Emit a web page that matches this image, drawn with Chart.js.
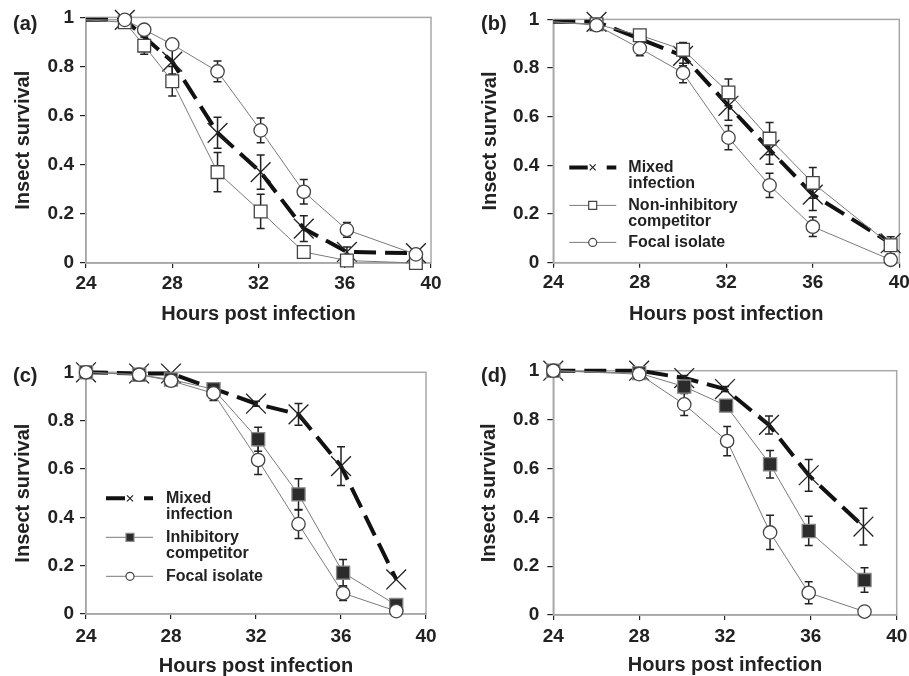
<!DOCTYPE html>
<html>
<head>
<meta charset="utf-8">
<script src="https://cdn.jsdelivr.net/npm/chart.js@4.4.1/dist/chart.umd.min.js"></script>
<style>
  html, body { margin: 0; padding: 0; background: #fff; overflow: hidden; }
  .wrap { position: relative; width: 909px; height: 676px; overflow: hidden; }
  canvas { position: absolute; }
  .tag { position: absolute; font: bold 20px "Liberation Sans", Arial, sans-serif; color: #222; line-height: 20px; }
</style>
</head>
<body>
<div class="wrap">
  <canvas id="ca" width="450" height="330" style="left:0;top:0"></canvas>
  <canvas id="cb" width="470" height="330" style="left:450px;top:0"></canvas>
  <canvas id="cc" width="450" height="350" style="left:0;top:330px"></canvas>
  <canvas id="cd" width="470" height="350" style="left:450px;top:330px"></canvas>
  <div class="tag" style="left:13px;top:13px">(a)</div>
  <div class="tag" style="left:481px;top:13px">(b)</div>
  <div class="tag" style="left:13px;top:365px">(c)</div>
  <div class="tag" style="left:481px;top:365px">(d)</div>
</div>
<script>
// hours post infection, survival, +/- error for every series
var aMixedT = [24, 25.8, 28, 30.1, 32.1, 34.1, 36.1, 39.3];
var aMixedY = [0.99, 0.99, 0.82, 0.53, 0.37, 0.14, 0.045, 0.04];
var aMixedE = [0, 0, 0.05, 0.063, 0.07, 0.052, 0.02, 0];
var aNonT = [24, 25.8, 26.7, 28, 30.1, 32.1, 34.1, 36.1, 39.3];
var aNonY = [0.99, 0.98, 0.885, 0.74, 0.37, 0.21, 0.045, 0.01, 0];
var aNonE = [0, 0, 0.035, 0.06, 0.08, 0.07, 0.02, 0, 0];
var aFocalT = [24, 25.8, 26.7, 28, 30.1, 32.1, 34.1, 36.1, 39.3];
var aFocalY = [0.99, 0.99, 0.95, 0.89, 0.78, 0.54, 0.29, 0.135, 0.035];
var aFocalE = [0, 0, 0.01, 0.01, 0.042, 0.05, 0.05, 0.03, 0];

var bMixedT = [24, 26, 30, 32.1, 34, 36, 39.6];
var bMixedY = [0.99, 0.99, 0.85, 0.645, 0.465, 0.28, 0.08];
var bMixedE = [0, 0, 0.04, 0.06, 0.06, 0.065, 0];
var bNonT = [24, 26, 28, 30, 32.1, 34, 36, 39.6];
var bNonY = [0.99, 0.98, 0.935, 0.875, 0.7, 0.51, 0.328, 0.072];
var bNonE = [0, 0.01, 0.01, 0.03, 0.055, 0.066, 0.063, 0.035];
var bFocalT = [24, 26, 28, 30, 32.1, 34, 36, 39.6];
var bFocalY = [0.99, 0.976, 0.881, 0.78, 0.514, 0.318, 0.148, 0.012];
var bFocalE = [0, 0.01, 0.03, 0.04, 0.05, 0.05, 0.04, 0];

var cMixedT = [24, 26.5, 28, 32, 34, 36, 38.6];
var cMixedY = [1, 0.995, 0.995, 0.87, 0.826, 0.612, 0.143];
var cMixedE = [0, 0, 0, 0.01, 0.045, 0.08, 0];
var cInhT = [24, 26.5, 28, 30, 32.1, 34, 36.1, 38.6];
var cInhY = [1, 0.99, 0.97, 0.93, 0.723, 0.495, 0.171, 0.037];
var cInhE = [0, 0, 0, 0.02, 0.05, 0.065, 0.055, 0.01];
var cFocalT = [24, 26.5, 28, 30, 32.1, 34, 36.1, 38.6];
var cFocalY = [1, 0.99, 0.965, 0.913, 0.637, 0.372, 0.086, 0.012];
var cFocalE = [0, 0, 0.01, 0.03, 0.06, 0.06, 0.03, 0];

var dMixedT = [24, 28, 30.1, 32, 34.05, 35.9, 38.45];
var dMixedY = [1, 1, 0.97, 0.925, 0.778, 0.572, 0.362];
var dMixedE = [0, 0, 0.01, 0.01, 0.037, 0.065, 0.075];
var dInhT = [24, 28, 30.1, 32.05, 34.1, 35.9, 38.5];
var dInhY = [1, 0.99, 0.935, 0.857, 0.617, 0.344, 0.143];
var dInhE = [0, 0, 0.01, 0.01, 0.056, 0.06, 0.05];
var dFocalT = [24, 28, 30.1, 32.1, 34.1, 35.9, 38.5];
var dFocalY = [1, 0.986, 0.862, 0.712, 0.338, 0.091, 0.014];
var dFocalE = [0, 0, 0.045, 0.06, 0.07, 0.045, 0];

var xTicks = [24, 28, 32, 36, 40];
var yTicks = [0, 0.2, 0.4, 0.6, 0.8, 1];
var yTickLabels = ["0", "0.2", "0.4", "0.6", "0.8", "1"];
var xTitle = "Hours post infection";
var yTitle = "Insect survival";
var mixedLegend = ["Mixed", "infection"];
var nonLegend = ["Non-inhibitory", "competitor"];
var inhLegend = ["Inhibitory", "competitor"];
var focalLegend = ["Focal isolate"];

Chart.defaults.font.family = '"Liberation Sans", Arial, Helvetica, sans-serif';
Chart.defaults.color = "#222";

var styles = {
  mixed: { line: "#111", lw: 4, dash: [22, 9], ps: "crossRot", r: 14, bg: "rgba(0,0,0,0)", bc: "#222", bw: 1.3 },
  open: { line: "#7a7a7a", lw: 1, dash: [], ps: "rect", r: 9, bg: "#fff", bc: "#444", bw: 1.3 },
  filled: { line: "#7a7a7a", lw: 1, dash: [], ps: "rect", r: 9.3, bg: "#2b2b2b", bc: "#888", bw: 1.3 },
  circle: { line: "#7a7a7a", lw: 1, dash: [], ps: "circle", r: 6.7, bg: "#fff", bc: "#444", bw: 1.3 }
};

function series(kind, t, y, e, legend) {
  return { kind: kind, t: t, y: y, e: e, legend: legend };
}

function toDataset(s, hideFirst) {
  var st = styles[s.kind];
  return {
    label: s.legend.join(" "),
    data: s.t.map(function (t, i) { return { x: t, y: s.y[i] }; }),
    errors: s.e,
    showLine: true,
    tension: 0,
    clip: false,
    borderColor: st.line,
    borderWidth: st.lw,
    borderDash: st.dash,
    pointStyle: st.ps,
    pointRadius: function (c) { return hideFirst && c.dataIndex === 0 ? 0 : st.r; },
    pointBackgroundColor: st.bg,
    pointBorderColor: st.bc,
    pointBorderWidth: st.bw
  };
}

var boxPlugin = {
  id: "box",
  beforeDatasetsDraw: function (chart) {
    var a = chart.chartArea, ctx = chart.ctx;
    ctx.save();
    ctx.strokeStyle = "#a8a8a8";
    ctx.lineWidth = 1.5;
    ctx.strokeRect(a.left, a.top, a.right - a.left, a.bottom - a.top);
    // error bars go under the markers
    var xs = chart.scales.x, ys = chart.scales.y;
    ctx.strokeStyle = "#222";
    ctx.lineWidth = 1.5;
    chart.data.datasets.forEach(function (ds) {
      ds.data.forEach(function (p, i) {
        var e = ds.errors[i];
        if (!e) return;
        var px = xs.getPixelForValue(p.x);
        var y0 = ys.getPixelForValue(p.y + e), y1 = ys.getPixelForValue(p.y - e);
        ctx.beginPath();
        ctx.moveTo(px, y0); ctx.lineTo(px, y1);
        ctx.moveTo(px - 4, y0); ctx.lineTo(px + 4, y0);
        ctx.moveTo(px - 4, y1); ctx.lineTo(px + 4, y1);
        ctx.stroke();
      });
    });
    ctx.restore();
  }
};

function drawMarker(ctx, kind, x, y) {
  var st = styles[kind];
  ctx.lineWidth = 1.2;
  ctx.strokeStyle = st.bc;
  ctx.fillStyle = st.bg;
  ctx.beginPath();
  if (kind === "circle") {
    ctx.arc(x, y, 4, 0, Math.PI * 2);
    ctx.fill(); ctx.stroke();
  } else if (kind === "mixed") {
    ctx.moveTo(x - 3, y - 3); ctx.lineTo(x + 3, y + 3);
    ctx.moveTo(x + 3, y - 3); ctx.lineTo(x - 3, y + 3);
    ctx.stroke();
  } else {
    ctx.rect(x - 4, y - 4, 8, 8);
    ctx.fill(); ctx.stroke();
  }
}

var legendPlugin = {
  id: "sketchLegend",
  afterDatasetsDraw: function (chart, args, opts) {
    if (!opts.rows) return;
    var a = chart.chartArea, ctx = chart.ctx;
    var x0 = a.left + opts.x0, x1 = a.left + opts.x1, xm = a.left + opts.xm, tx = a.left + opts.tx;
    ctx.save();
    opts.rows.forEach(function (row) {
      var s = row.s, st = styles[s.kind], y = a.top + row.y;
      ctx.strokeStyle = st.line;
      ctx.lineWidth = st.lw;
      ctx.beginPath();
      if (s.kind === "mixed") {
        ctx.moveTo(x0, y); ctx.lineTo(xm - 5, y);
        ctx.moveTo(xm + 14, y); ctx.lineTo(x1, y);
      } else {
        ctx.moveTo(x0, y); ctx.lineTo(x1, y);
      }
      ctx.stroke();
      drawMarker(ctx, s.kind, xm, y);
      ctx.fillStyle = "#222";
      ctx.font = "bold 16px " + Chart.defaults.font.family;
      ctx.textAlign = "left";
      ctx.textBaseline = "middle";
      s.legend.forEach(function (line, k) { ctx.fillText(line, tx, y + k * 16); });
    });
    ctx.restore();
  }
};

function makePanel(id, p, list, legend) {
  var ctx = document.getElementById(id).getContext("2d");
  return new Chart(ctx, {
    type: "scatter",
    data: { datasets: list.map(function (s) { return toDataset(s, p.hideFirst); }) },
    options: {
      responsive: false,
      animation: false,
      events: [],
      layout: { padding: { left: 0, top: p.top, right: p.right, bottom: 0 } },
      plugins: { legend: { display: false }, tooltip: { enabled: false }, sketchLegend: legend || {} },
      scales: {
        x: {
          type: "linear", min: 24, max: 40,
          afterBuildTicks: function (s) { s.ticks = xTicks.map(function (v) { return { value: v }; }); },
          afterFit: function (s) { s.height = p.xh; },
          ticks: { padding: p.xPad, color: "#222", font: { size: 19, weight: "bold" }, maxRotation: 0 },
          grid: { drawOnChartArea: false, tickLength: 5, tickColor: "#222", lineWidth: 1.2 },
          border: { color: "#a0a0a0", width: 1.5 },
          title: { display: true, text: xTitle, color: "#222", font: { size: 20, weight: "bold" }, padding: { top: 0, bottom: p.xtPad } }
        },
        y: {
          min: 0, max: 1,
          afterBuildTicks: function (s) { s.ticks = yTicks.map(function (v) { return { value: v }; }); },
          afterFit: function (s) { s.width = p.yw; },
          ticks: {
            padding: p.yPad, color: "#222", font: { size: 19, weight: "bold" },
            callback: function (v) { return yTickLabels[yTicks.indexOf(Math.round(v * 10) / 10)]; }
          },
          grid: { drawOnChartArea: false, tickLength: 6, tickColor: "#222", lineWidth: 1.2 },
          border: { color: "#a0a0a0", width: 1.5 },
          title: { display: true, text: yTitle, color: "#222", font: { size: 20, weight: "bold" }, padding: { top: p.ytPad, bottom: 0 } }
        }
      }
    },
    plugins: [boxPlugin, legendPlugin]
  });
}

// (a)
var aFocal = series("circle", aFocalT, aFocalY, aFocalE, focalLegend);
var aNon = series("open", aNonT, aNonY, aNonE, nonLegend);
var aMixed = series("mixed", aMixedT, aMixedY, aMixedE, mixedLegend);
makePanel("ca", { top: 17, right: 19, xh: 67, yw: 86, xPad: 4, yPad: 6, xtPad: 4, ytPad: 11, hideFirst: true },
  [aFocal, aNon, aMixed]);

// (b)
var bFocal = series("circle", bFocalT, bFocalY, bFocalE, focalLegend);
var bNon = series("open", bNonT, bNonY, bNonE, nonLegend);
var bMixed = series("mixed", bMixedT, bMixedY, bMixedE, mixedLegend);
makePanel("cb", { top: 15.7, right: 20.7, xh: 67.3, yw: 103.3, xPad: 4, yPad: 8, xtPad: 4, ytPad: 28, hideFirst: true },
  [bFocal, bNon, bMixed],
  { x0: 16, x1: 63, xm: 39.4, tx: 75, rows: [{ s: bMixed, y: 148 }, { s: bNon, y: 186 }, { s: bFocal, y: 223 }] });

// (c)
var cFocal = series("circle", cFocalT, cFocalY, cFocalE, focalLegend);
var cInh = series("filled", cInhT, cInhY, cInhE, inhLegend);
var cMixed = series("mixed", cMixedT, cMixedY, cMixedE, mixedLegend);
makePanel("cc", { top: 42.3, right: 24, xh: 66, yw: 86, xPad: 6, yPad: 6, xtPad: 2, ytPad: 11, hideFirst: false },
  [cFocal, cInh, cMixed],
  { x0: 20, x1: 67, xm: 44, tx: 80, rows: [{ s: cMixed, y: 126 }, { s: cInh, y: 165 }, { s: cFocal, y: 204 }] });

// (d)
var dFocal = series("circle", dFocalT, dFocalY, dFocalE, focalLegend);
var dInh = series("filled", dInhT, dInhY, dInhE, inhLegend);
var dMixed = series("mixed", dMixedT, dMixedY, dMixedE, mixedLegend);
makePanel("cd", { top: 40.7, right: 23.3, xh: 65, yw: 103.3, xPad: 5, yPad: 8, xtPad: 3, ytPad: 27, hideFirst: false },
  [dFocal, dInh, dMixed]);
</script>
</body>
</html>
